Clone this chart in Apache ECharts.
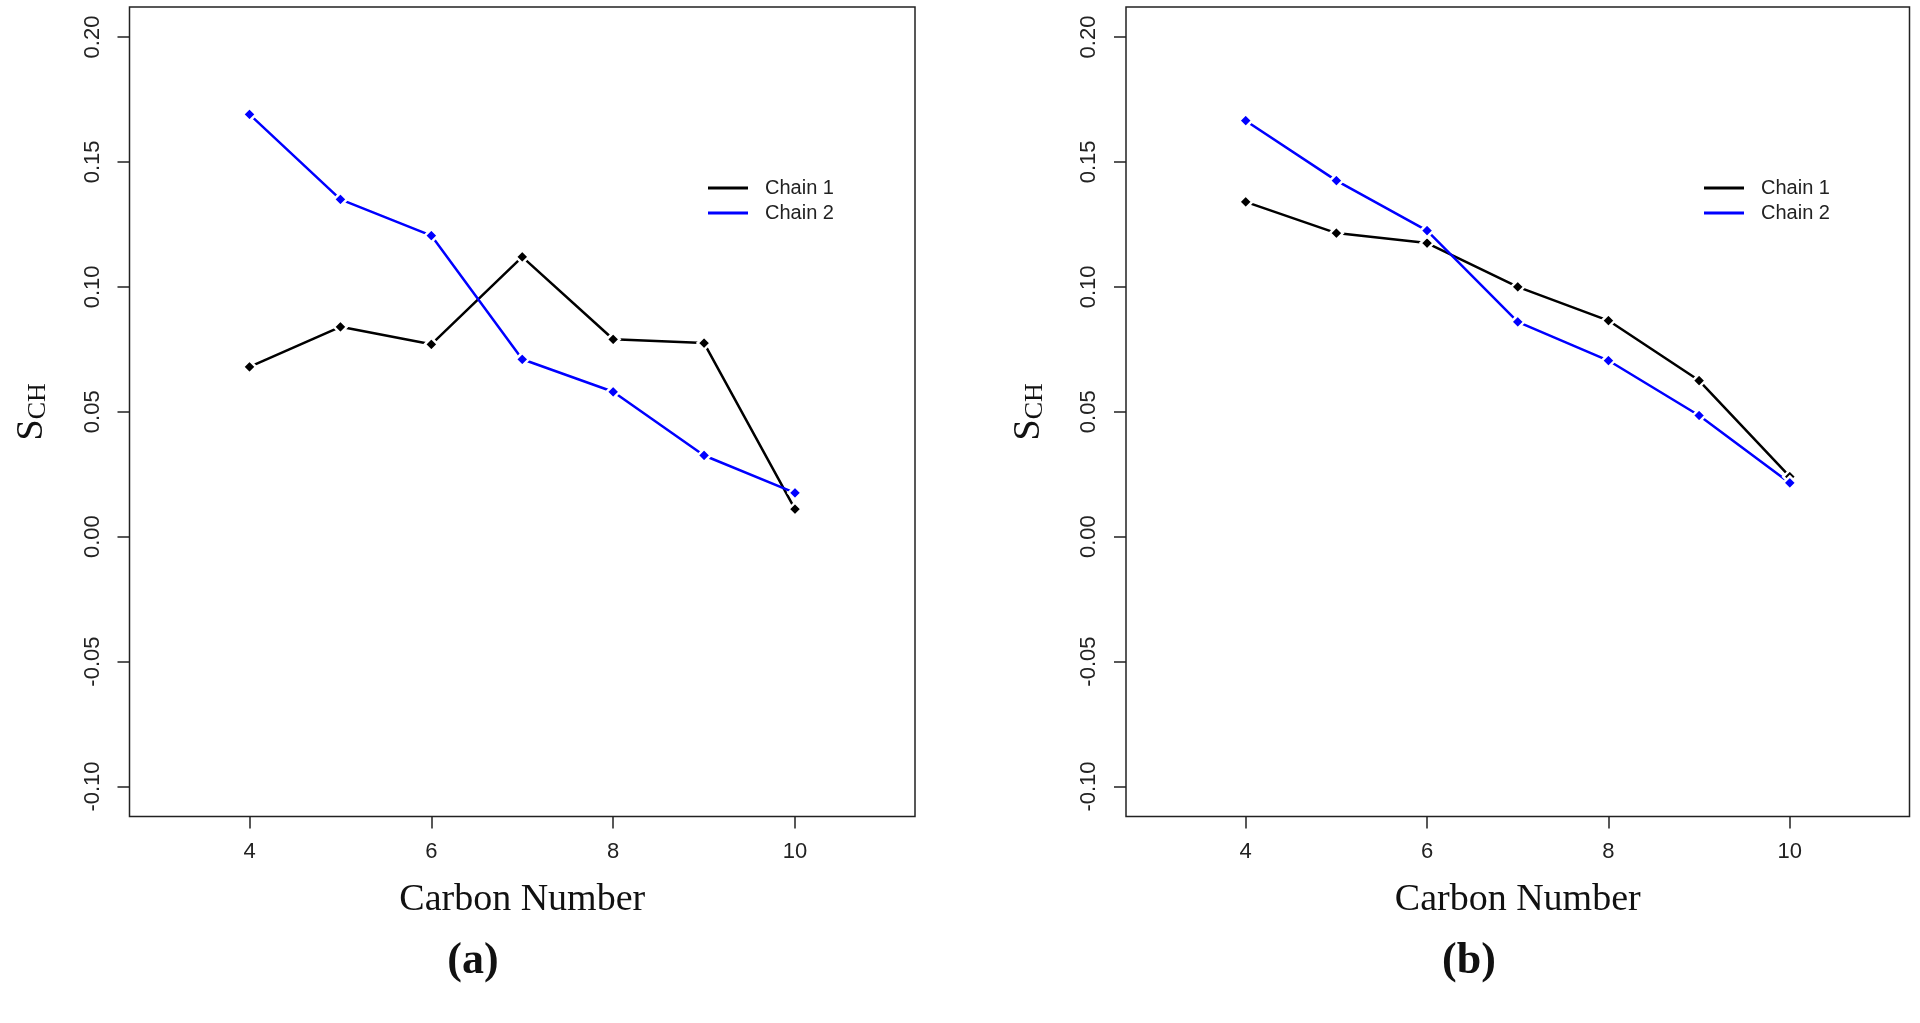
<!DOCTYPE html>
<html>
<head>
<meta charset="utf-8">
<script src="https://cdn.jsdelivr.net/npm/echarts@6/dist/echarts.min.js"></script>
<style>
html,body{margin:0;padding:0;background:#fff;}
#chart{width:1920px;height:1023px;}
</style>
</head>
<body>
<div id="chart"></div>
<script>
// ---- data ----
const carbonNumber = [4, 5, 6, 7, 8, 9, 10];
const panelA_chain1 = [0.068, 0.084, 0.077, 0.112, 0.079, 0.0775, 0.011];
const panelA_chain2 = [0.169, 0.135, 0.1205, 0.071, 0.058, 0.0325, 0.0175];
const panelB_chain1 = [0.134, 0.1215, 0.1175, 0.100, 0.0865, 0.0625, 0.024];
const panelB_chain2 = [0.1665, 0.1425, 0.1225, 0.086, 0.0705, 0.0485, 0.0215];
const xTickValues = [4, 6, 8, 10];
const yTickValues = [-0.10, -0.05, 0.00, 0.05, 0.10, 0.15, 0.20];
const seriesNames = ['Chain 1', 'Chain 2'];
const panelLabels = ['(a)', '(b)'];
const xRange = [2.68, 11.32];
const yRange = [-0.112, 0.212];

const pairs = (xs, ys) => xs.map((x, i) => [x, ys[i]]);

const chart = echarts.init(document.getElementById('chart'));
const axisColor = '#222';
const sans = '"Liberation Sans", Arial, sans-serif';
const serif = '"Liberation Serif", "Times New Roman", serif';

function xAxisFor(gridIndex) {
  return {
    gridIndex, type: 'value', min: xRange[0], max: xRange[1],
    name: 'Carbon Number', nameLocation: 'middle', nameGap: 65,
    nameTextStyle: {fontFamily: serif, fontSize: 38, color: '#111'},
    axisLine: {show: false, onZero: false},
    splitLine: {show: false},
    axisTick: {show: true, inside: false, length: 12, customValues: xTickValues,
      lineStyle: {color: axisColor, width: 1.5}},
    axisLabel: {show: true, customValues: xTickValues, margin: 24,
      fontFamily: sans, fontSize: 22, color: '#222',
      formatter: v => String(v)}
  };
}
function yAxisFor(gridIndex) {
  return {
    gridIndex, type: 'value', min: yRange[0], max: yRange[1],
    name: '{s|S}{c|CH}', nameLocation: 'middle', nameGap: 78, nameRotate: 90,
    nameTextStyle: {
      lineHeight: 46,
      rich: {
        s: {fontFamily: serif, fontSize: 38, lineHeight: 38, verticalAlign: 'top', color: '#111'},
        c: {fontFamily: serif, fontSize: 26, lineHeight: 26, verticalAlign: 'bottom', color: '#111'}
      }
    },
    axisLine: {show: false, onZero: false},
    splitLine: {show: false},
    axisTick: {show: true, inside: false, length: 12, customValues: yTickValues,
      lineStyle: {color: axisColor, width: 1.5}},
    axisLabel: {show: true, customValues: yTickValues, margin: 26, rotate: 90,
      fontFamily: sans, fontSize: 22, color: '#222',
      formatter: v => v.toFixed(2)}
  };
}
function lineSeries(name, color, idx, xs, ys) {
  return {
    name, type: 'line', xAxisIndex: idx, yAxisIndex: idx,
    data: pairs(xs, ys),
    symbol: 'diamond', symbolSize: 13,
    lineStyle: {color, width: 2.5},
    itemStyle: {color, borderColor: '#fff', borderWidth: 2.5},
    emphasis: {disabled: true},
    animation: false
  };
}
function legendFor(left) {
  return {
    left, top: 173, orient: 'vertical', data: seriesNames,
    icon: 'rect', itemWidth: 40, itemHeight: 3, itemGap: 5,
    selectedMode: false,
    itemStyle: {borderWidth: 0},
    textStyle: {fontFamily: sans, fontSize: 20, color: '#222', padding: [0, 0, 0, 12]}
  };
}

chart.setOption({
  backgroundColor: '#fff',
  animation: false,
  grid: [
    {left: 129.5, right: 1005, top: 7, bottom: 206.5, show: true,
     borderColor: axisColor, borderWidth: 1.5, backgroundColor: 'transparent', containLabel: false},
    {left: 1126, right: 10.5, top: 7, bottom: 206.5, show: true,
     borderColor: axisColor, borderWidth: 1.5, backgroundColor: 'transparent', containLabel: false}
  ],
  xAxis: [xAxisFor(0), xAxisFor(1)],
  yAxis: [yAxisFor(0), yAxisFor(1)],
  legend: [legendFor(703), legendFor(1699)],
  series: [
    lineSeries(seriesNames[0], '#000000', 0, carbonNumber, panelA_chain1),
    lineSeries(seriesNames[1], '#0000ff', 0, carbonNumber, panelA_chain2),
    lineSeries(seriesNames[0], '#000000', 1, carbonNumber, panelB_chain1),
    lineSeries(seriesNames[1], '#0000ff', 1, carbonNumber, panelB_chain2)
  ],
  graphic: [
    {type: 'text', x: 473, y: 962, style: {text: panelLabels[0], font: 'bold 44px ' + serif,
      fill: '#111', textAlign: 'center', textVerticalAlign: 'middle'}},
    {type: 'text', x: 1469, y: 962, style: {text: panelLabels[1], font: 'bold 44px ' + serif,
      fill: '#111', textAlign: 'center', textVerticalAlign: 'middle'}}
  ]
});
</script>
</body>
</html>
